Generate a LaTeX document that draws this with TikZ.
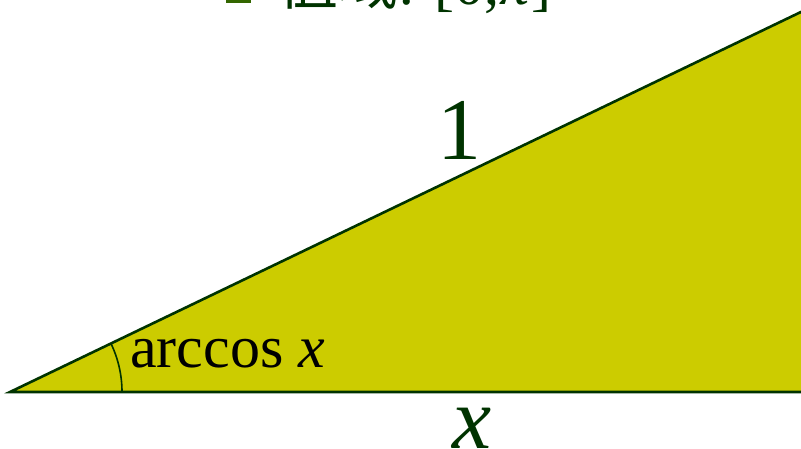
\documentclass[tikz,border=0pt]{standalone}
\usepackage{fontspec}
\setmainfont{Liberation Serif}
\newfontfamily\cjk{Noto Sans CJK SC}
\definecolor{dkgreen}{HTML}{003300}
\definecolor{olive}{HTML}{CCCC00}
\definecolor{bullet}{HTML}{336600}
\begin{document}
\begin{tikzpicture}[x=1pt,y=1pt,
  edge/.style={draw=dkgreen,line width=2.6pt,line join=miter},
  lbl/.style={inner sep=0pt,anchor=base}]
\useasboundingbox (0,0) rectangle (801,449);
\clip (0,0) rectangle (801,449);
\coordinate (A) at (10,57);
\coordinate (B) at (900,57);
\coordinate (C) at (900,484.6);
\fill[olive] (A) -- (B) -- (C) -- cycle;
\draw[edge] (C) -- (A) -- (B);
\draw[draw=dkgreen,line width=1.6pt] (122,57) arc[start angle=0,end angle=25.66,radius=112];
\node[lbl,anchor=base west,font=\fontsize{60}{60}\selectfont] (ang) at (130,81) {arccos \textit{x}};
\node[lbl,text=dkgreen,font=\fontsize{88}{88}\selectfont] (one) at (459,289) {1};
\node[lbl,text=dkgreen,font=\fontsize{88}{88}\selectfont\itshape] (xl) at (472,0) {x};
\fill[bullet] (226,446) rectangle (251,480);
\node[lbl,anchor=base west,text=dkgreen,font=\fontsize{60}{60}\selectfont] (title) at (278,444) {{\cjk 值域}: [0,\textit{π}]};
\end{tikzpicture}
\end{document}
